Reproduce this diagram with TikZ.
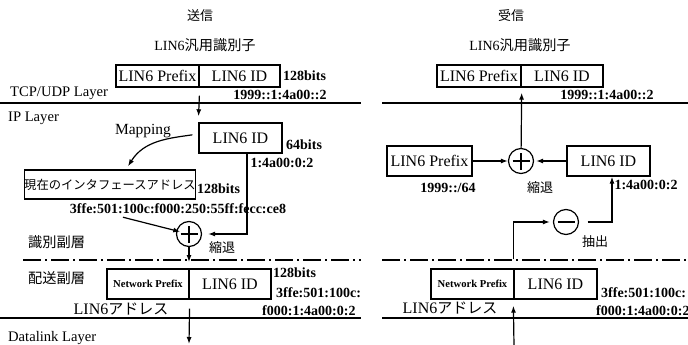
\documentclass[tikz,border=0pt]{standalone}
\usepackage{fontspec}
\setmainfont{Liberation Serif}
\newfontfamily\jpfont{Noto Sans CJK JP}
\usepackage{tikz}
\usetikzlibrary{arrows.meta, positioning, calc}

\newcommand\layfont{\fontsize{14.6}{16}\selectfont}
\newcommand\cellfont{\fontsize{16}{18}\selectfont}
\newcommand\bitfont{\fontsize{14}{16}\selectfont\bfseries}
\newcommand\jpsmall{\fontsize{13}{15}\selectfont\jpfont}
\newcommand\jpmid{\fontsize{14.2}{16}\selectfont\jpfont}

\tikzstyle{arr}       = [line width=1.2pt, -{Latex[length=7pt,width=5pt]}]
\tikzstyle{layerline} = [line width=1.5pt]

\begin{document}
\begin{tikzpicture}[x=1pt, y=-1pt,
    cell/.style={draw, line width=1.4pt, inner sep=0pt, minimum height=22pt,
                 font=\cellfont},
    bits/.style={inner sep=0pt, font=\bitfont},
    layer/.style={inner sep=0pt, anchor=west, font=\layfont},
    jtxt/.style={inner sep=0pt, font=\jpsmall},
    op/.style={circle, draw, line width=1.2pt, minimum size=25pt, inner sep=0pt},
    plusop/.style={op, path picture={
        \draw[line width=1.2pt] ([xshift=-8.5pt]path picture bounding box.center)
          -- ([xshift=8.5pt]path picture bounding box.center);
        \draw[line width=1.2pt] ([yshift=-8.5pt]path picture bounding box.center)
          -- ([yshift=8.5pt]path picture bounding box.center);}},
    minusop/.style={op, path picture={
        \draw[line width=1.2pt] ([xshift=-8.5pt]path picture bounding box.center)
          -- ([xshift=8.5pt]path picture bounding box.center);}}]
  \useasboundingbox (0,0) rectangle (688,345);

  % layer lines
  \foreach \y in {103,318} {
    \draw[layerline] (0,\y) -- (361,\y);
    \draw[layerline] (382,\y) -- (688,\y);
  }
  \draw[layerline, dash pattern=on 18pt off 4pt on 2pt off 4pt] (23,260) -- (361,260);
  \draw[layerline, dash pattern=on 18pt off 4pt on 2pt off 4pt] (382,260) -- (688,260);

  \node[layer] (tcp)  at (10,93)  {TCP/UDP Layer};
  \node[layer] (ip)   at (8,118)  {IP Layer};
  \node[layer, font=\jpmid] (idsub) at (28,242) {識別副層};
  \node[layer, font=\jpmid] (dlsub) at (28,278) {配送副層};
  \node[layer] (link) at (8,338)  {Datalink Layer};

  % send side
  \node[jtxt] (send) at (200,16) {送信};
  \node[inner sep=0pt] (gidA) at (205,45) {\fontsize{14}{16}\selectfont LIN6{\jpmid 汎用識別子}};
  \node[cell, minimum width=83pt] (pfxA) at (157.5,76) {LIN6 Prefix};
  \node[cell, minimum width=81pt] (idA)  at (239.5,76) {LIN6 ID};
  \node[bits, anchor=west] (bitsA) at (283,76) {128bits};
  \node[bits] (gaddrA) at (280,95) {1999::1:4a00::2};

  \node[cell, minimum width=83pt, minimum height=30pt] (idB) at (240.5,138) {LIN6 ID};
  \node[bits, anchor=west] (bitsB) at (286,145) {64bits};
  \node[inner sep=0pt, font=\fontsize{15.5}{17}\selectfont] (map) at (143,131) {Mapping};
  \node[bits] (hostA) at (282,163) {1:4a00:0:2};

  \node[cell, minimum width=166pt, minimum height=29pt,
        font=\fontsize{12.3}{14}\selectfont\jpfont] (ifA) at (110,184.5) {現在のインタフェースアドレス};
  \node[bits, anchor=west] (bitsC) at (197,189) {128bits};
  \node[bits] (addrA) at (178,209) {3ffe:501:100c:f000:250:55ff:fecc:ce8};

  \node[plusop] (plusA) at (189,234) {};
  \node[jtxt, anchor=west] (degA) at (209,248) {縮退};

  \node[cell, minimum width=82pt, minimum height=30pt,
        font=\fontsize{10.6}{12}\selectfont\bfseries] (npA) at (148,284) {Network Prefix};
  \node[cell, minimum width=82pt, minimum height=30pt] (idD) at (230,284) {LIN6 ID};
  \node[bits, anchor=west] (bitsD) at (273,273) {128bits};
  \node[bits, anchor=west] (adrA1) at (276,293) {3ffe:501:100c:};
  \node[bits, anchor=west] (adrA2) at (262,311) {f000:1:4a00:0:2};
  \node[inner sep=0pt] (l6A) at (121,309) {\cellfont LIN6{\fontsize{15}{17}\selectfont\jpfont アドレス}};
  \coordinate (outA) at (189,344);

  \draw[arr, shorten <=8pt, shorten >=6pt] (pfxA.south east) -- (idB.north west);
  \draw[arr, shorten <=6pt] ([yshift=4pt]idB.west) to[out=188, in=58]
        ([xshift=18pt, yshift=3pt]ifA.north);
  \draw[arr, shorten >=6pt] ([xshift=6.5pt]idB.south) |- (plusA.east);
  \draw[arr, shorten >=9pt] ($(addrA.south)+(-55,3)$) -- (plusA.center);
  \draw[arr, shorten >=-2pt] (plusA) -- (plusA |- 0,260);
  \draw[arr, shorten <=9pt] (npA.south east) -- (outA);

  % receive side
  \node[jtxt] (recv) at (511,16) {受信};
  \node[inner sep=0pt] (gidB) at (520,45) {\fontsize{14}{16}\selectfont LIN6{\jpmid 汎用識別子}};
  \node[cell, minimum width=84pt] (pfxR0) at (479,76) {LIN6 Prefix};
  \node[cell, minimum width=82pt] (idR0)  at (562,76) {LIN6 ID};
  \node[bits] (gaddrB) at (607,95) {1999::1:4a00::2};

  \node[plusop] (plusB) at (521,161) {};
  \node[cell, minimum width=85pt, minimum height=30pt] (pfxR) at (429.5,161) {LIN6 Prefix};
  \node[cell, minimum width=83pt, minimum height=30pt] (idR)  at (608.5,161) {LIN6 ID};
  \node[bits] (netR) at (448,188) {1999::/64};
  \node[jtxt] (degB) at (540,188) {縮退};
  \node[bits] (hostB) at (646,185) {1:4a00:0:2};

  \node[minusop] (minusB) at (566,222) {};
  \node[jtxt] (ext) at (595,242) {抽出};

  \node[cell, minimum width=83pt, minimum height=30pt,
        font=\fontsize{10.6}{12}\selectfont\bfseries] (npB) at (472.5,284) {Network Prefix};
  \node[cell, minimum width=83pt, minimum height=30pt] (idE) at (555.5,284) {LIN6 ID};
  \node[bits, anchor=west] (adrB1) at (601,293) {3ffe:501:100c:};
  \node[bits, anchor=west] (adrB2) at (596,311) {f000:1:4a00:0:2};
  \node[inner sep=0pt] (l6B) at (450,308) {\cellfont LIN6{\fontsize{15}{17}\selectfont\jpfont アドレス}};
  \coordinate (inB) at (514,346);

  \draw[arr, shorten >=5pt] (plusB) -- (pfxR0.south east);
  \draw[arr] (pfxR) -- (plusB);
  \draw[arr, shorten >=2pt] (idR) -- (plusB);
  \draw[arr] ([xshift=8.5pt]minusB.east) -| ([xshift=3.5pt]idR.south);
  \draw[arr, shorten <=9pt, shorten >=3pt] (idE.north west) |- (minusB.west);
  \draw[arr, shorten >=6pt] (inB) -- (idE.south west);
\end{tikzpicture}
\end{document}
